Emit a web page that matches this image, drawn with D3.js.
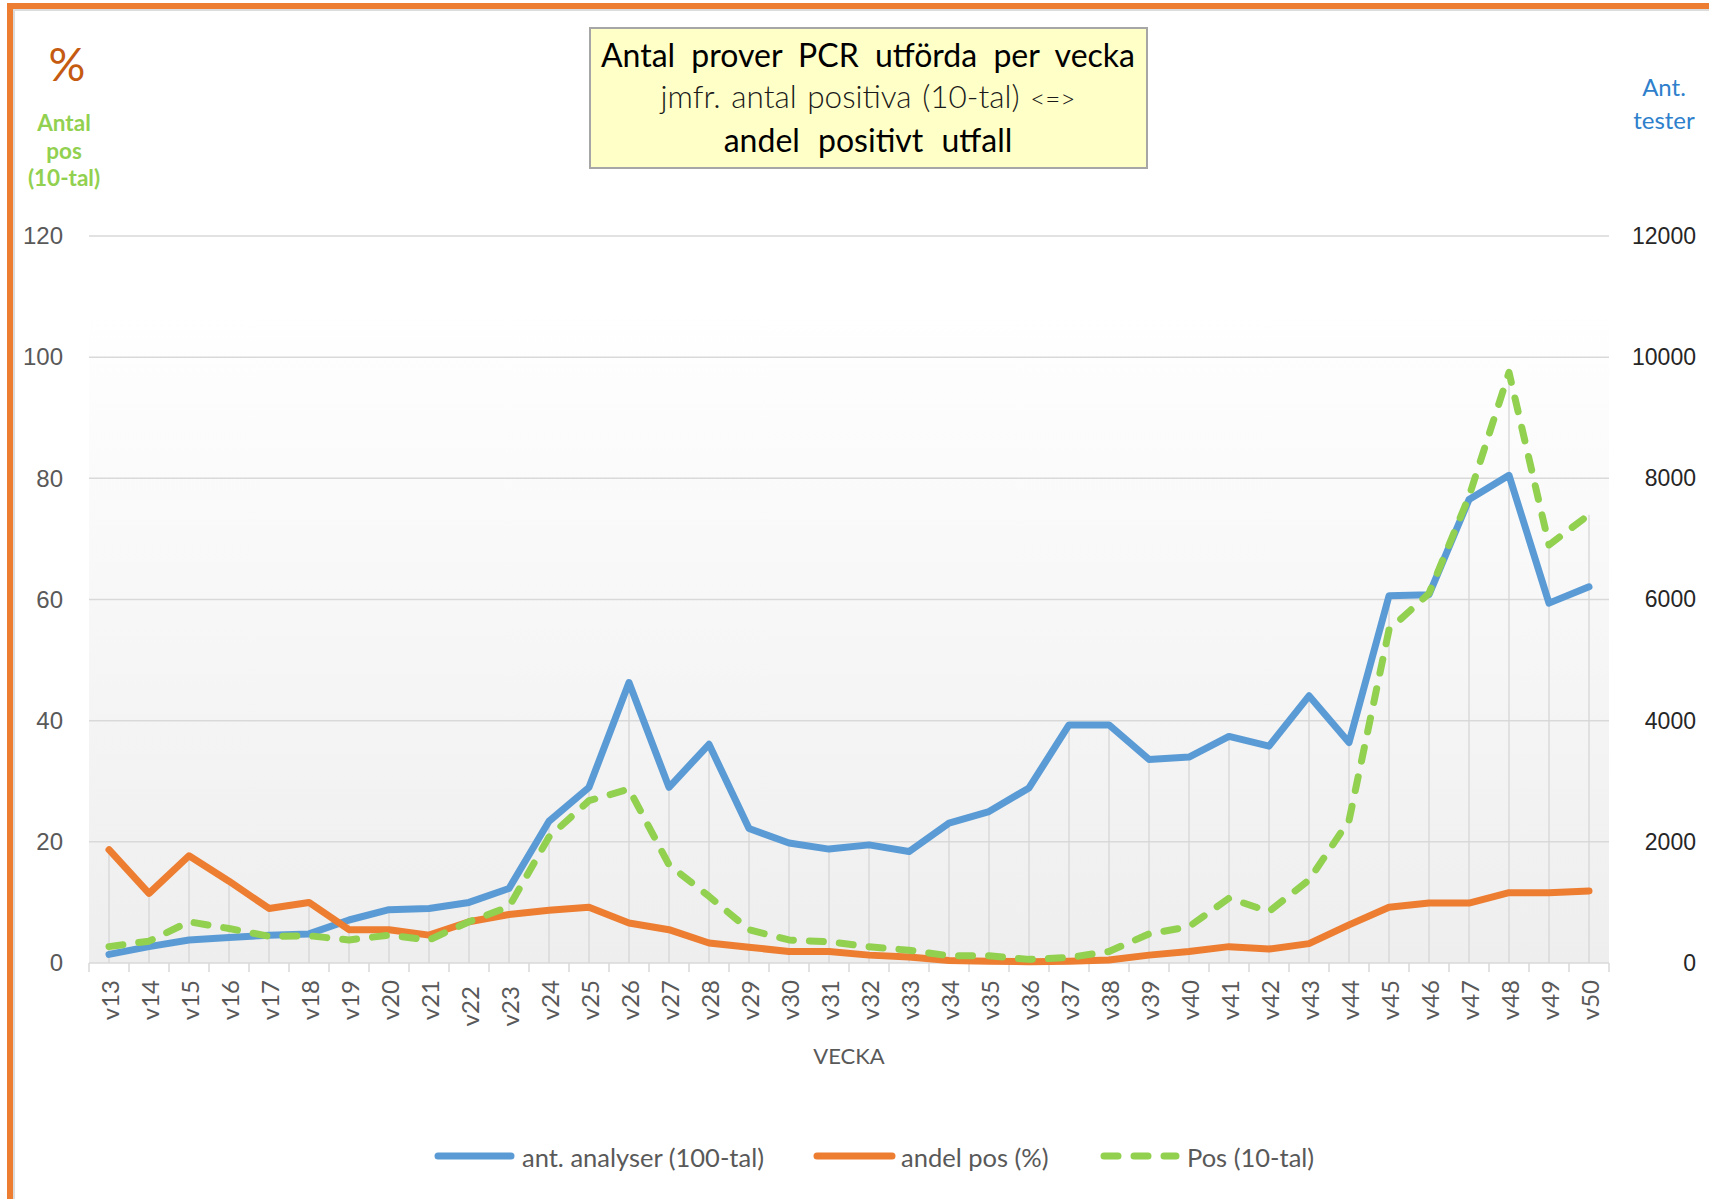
<!DOCTYPE html>
<html>
<head>
<meta charset="utf-8">
<script src="https://cdn.jsdelivr.net/npm/d3@7"></script>
<style>
  body { margin: 0; background: #fff; }
  svg { display: block; font-family: Lato, "Open Sans", sans-serif; }
  .wk { white-space: pre; }
</style>
</head>
<body>
<svg id="svg" width="1709" height="1199"></svg>
<script>
// weeks (a trailing space on v22/v23 is in the source labels)
var weeks = ["v13","v14","v15","v16","v17","v18","v19","v20","v21","v22 ","v23 ","v24","v25",
  "v26","v27","v28","v29","v30","v31","v32","v33","v34","v35","v36","v37","v38","v39","v40",
  "v41","v42","v43","v44","v45","v46","v47","v48","v49","v50"];

// ant. analyser - number of tests (right axis)
var analyser = [143, 270, 380, 420, 460, 480, 710, 880, 900, 1000, 1230, 2340, 2900,
  4630, 2900, 3610, 2220, 1980, 1880, 1950, 1840, 2310, 2500, 2890, 3930, 3930, 3360, 3400,
  3740, 3580, 4410, 3640, 6060, 6080, 7650, 8050, 5940, 6210];

// andel pos (%)
var andelPos = [18.7, 11.5, 17.7, 13.5, 9.0, 10.0, 5.5, 5.5, 4.6, 6.8, 8.0, 8.7, 9.2,
  6.6, 5.5, 3.3, 2.6, 1.9, 1.9, 1.3, 1.0, 0.4, 0.3, 0.2, 0.3, 0.5, 1.3, 1.9,
  2.7, 2.3, 3.2, 6.3, 9.2, 9.9, 9.9, 11.6, 11.6, 11.9];

// Pos (10-tal)
var pos10 = [2.7, 3.6, 6.8, 5.7, 4.4, 4.5, 3.8, 4.6, 3.8, 6.8, 9.3, 20.8, 26.8,
  28.7, 16.2, 11.0, 5.5, 3.8, 3.5, 2.7, 2.1, 1.2, 1.2, 0.6, 0.9, 1.9, 4.8, 6.0,
  10.7, 8.5, 13.7, 23.5, 55, 61, 77, 97.5, 69, 74];

var leftTicks = [0, 20, 40, 60, 80, 100, 120];
var rightTicks = [0, 2000, 4000, 6000, 8000, 10000, 12000];
var seriesNames = ["ant. analyser (100-tal)", "andel pos (%)", "Pos (10-tal)"];
var colors = ["#5b9bd5", "#ed7d31", "#92d050"];

var svg = d3.select("#svg");
var plot = {left: 89, right: 1609, top: 236, bottom: 963};

var xScale = d3.scaleBand().domain(weeks).range([plot.left, plot.right]).padding(0);
var bw = xScale.bandwidth();
var cx = function(i){ return xScale(weeks[i]) + bw / 2; };
var yLeft = d3.scaleLinear().domain([0, 120]).range([plot.bottom, plot.top]);
var yRight = d3.scaleLinear().domain([0, 12000]).range([plot.bottom, plot.top]);

// frame
svg.append("rect").attr("x", 7).attr("y", 3).attr("width", 1702).attr("height", 6).attr("fill", "#ed7d31");
svg.append("rect").attr("x", 7).attr("y", 3).attr("width", 6).attr("height", 1196).attr("fill", "#ed7d31");
svg.append("line").attr("x1", 13).attr("x2", 1709).attr("y1", 10).attr("y2", 10).attr("stroke", "#dcdcdc").attr("stroke-width", 2);
svg.append("line").attr("x1", 14).attr("x2", 14).attr("y1", 10).attr("y2", 1199).attr("stroke", "#dcdcdc").attr("stroke-width", 2);

// plot background gradient
var defs = svg.append("defs");
var grad = defs.append("linearGradient").attr("id", "bg").attr("x1", 0).attr("y1", 0).attr("x2", 0).attr("y2", 1);
grad.append("stop").attr("offset", "0").attr("stop-color", "#ffffff");
grad.append("stop").attr("offset", "0.1").attr("stop-color", "#ffffff");
grad.append("stop").attr("offset", "1").attr("stop-color", "#eeeeee");
svg.append("rect").attr("x", plot.left).attr("y", plot.top)
  .attr("width", plot.right - plot.left).attr("height", plot.bottom - plot.top)
  .attr("fill", "url(#bg)");

// gridlines
svg.append("g").selectAll("line").data(leftTicks.slice(1)).enter().append("line")
  .attr("x1", plot.left).attr("x2", plot.right)
  .attr("y1", function(d){ return yLeft(d); }).attr("y2", function(d){ return yLeft(d); })
  .attr("stroke", "#d9d9d9").attr("stroke-width", 1.5);

// drop lines
svg.append("g").selectAll("line").data(weeks).enter().append("line")
  .attr("x1", function(d, i){ return cx(i); }).attr("x2", function(d, i){ return cx(i); })
  .attr("y1", plot.bottom)
  .attr("y2", function(d, i){ return yLeft(Math.max(andelPos[i], pos10[i], analyser[i] / 100)); })
  .attr("stroke", "#d6d6d6").attr("stroke-width", 1.3);

// left axis
var la = svg.append("g").attr("transform", "translate(" + (plot.left - 26) + ",0)")
  .call(d3.axisLeft(yLeft).tickValues(leftTicks).tickSize(0).tickPadding(0));
la.select(".domain").remove();
la.selectAll("text").attr("font-size", 24).attr("fill", "#595959").attr("font-family", null);

// right axis
var ra = svg.append("g").attr("transform", "translate(1696,0)")
  .call(d3.axisRight(yRight).tickValues(rightTicks).tickSize(0).tickPadding(0).tickFormat(d3.format("d")));
ra.select(".domain").remove();
ra.selectAll("text").attr("text-anchor", "end").attr("font-size", 23).attr("fill", "#262626").attr("font-family", null);

// x axis
svg.append("line").attr("x1", plot.left).attr("x2", plot.right).attr("y1", plot.bottom).attr("y2", plot.bottom)
  .attr("stroke", "#d9d9d9").attr("stroke-width", 1.5);
var bounds = weeks.map(function(d){ return xScale(d); }).concat([plot.right]);
svg.append("g").selectAll("line").data(bounds).enter().append("line")
  .attr("x1", function(d){ return d; }).attr("x2", function(d){ return d; })
  .attr("y1", plot.bottom).attr("y2", plot.bottom + 9)
  .attr("stroke", "#d9d9d9").attr("stroke-width", 1.5);
svg.append("g").selectAll("text").data(weeks).enter().append("text")
  .attr("class", "wk")
  .attr("transform", function(d, i){ return "translate(" + cx(i) + ",980) rotate(-90)"; })
  .attr("text-anchor", "end").attr("dominant-baseline", "central")
  .attr("font-size", 24).attr("fill", "#595959")
  .text(function(d){ return d; });

svg.append("text").attr("x", 849).attr("y", 1055).attr("text-anchor", "middle")
  .attr("dominant-baseline", "central").attr("font-size", 22).attr("fill", "#595959").text("VECKA");

// series
var line = d3.line().x(function(d){ return cx(d[0]); }).y(function(d){ return d[1]; });
var blueLine = analyser.map(function(v, i){ return [i, yRight(v)]; });
var orangeLine = andelPos.map(function(v, i){ return [i, yLeft(v)]; });
var greenLine = pos10.map(function(v, i){ return [i, yLeft(v)]; });

svg.append("path").attr("d", line(blueLine)).attr("fill", "none").attr("stroke", colors[0])
  .attr("stroke-width", 7).attr("stroke-linejoin", "round").attr("stroke-linecap", "round");
svg.append("path").attr("d", line(orangeLine)).attr("fill", "none").attr("stroke", colors[1])
  .attr("stroke-width", 7).attr("stroke-linejoin", "round").attr("stroke-linecap", "round");
svg.append("path").attr("d", line(greenLine)).attr("fill", "none").attr("stroke", colors[2])
  .attr("stroke-width", 7).attr("stroke-linejoin", "round").attr("stroke-linecap", "round")
  .attr("stroke-dasharray", "14,16");

// title box
svg.append("rect").attr("x", 590).attr("y", 28).attr("width", 557).attr("height", 140)
  .attr("fill", "#ffffc8").attr("stroke", "#a6a6a6").attr("stroke-width", 2);
svg.append("text").attr("x", 868).attr("y", 67).attr("text-anchor", "middle")
  .attr("font-size", 32).attr("word-spacing", 8).attr("fill", "#000")
  .text("Antal prover PCR utförda per vecka");
var t2 = svg.append("text").attr("x", 868).attr("y", 108).attr("text-anchor", "middle")
  .attr("font-size", 31.5).attr("font-weight", 300).attr("word-spacing", 2).attr("fill", "#1a1a1a");
t2.append("tspan").text("jmfr. antal positiva (10-tal) ");
t2.append("tspan").attr("font-size", 26).text("<=>");
svg.append("text").attr("x", 868).attr("y", 152).attr("text-anchor", "middle")
  .attr("font-size", 32).attr("word-spacing", 10).attr("fill", "#000")
  .text("andel positivt utfall");

// axis captions
svg.append("text").attr("x", 67).attr("y", 81).attr("text-anchor", "middle")
  .attr("font-size", 46).attr("fill", "#c55a11").text("%");
svg.append("g").selectAll("text").data(["Antal", "pos", "(10-tal)"]).enter().append("text")
  .attr("x", 64).attr("y", function(d, i){ return 131 + i * 27.5; }).attr("text-anchor", "middle")
  .attr("font-size", 22.5).attr("font-weight", "bold").attr("fill", "#92d050").text(function(d){ return d; });
svg.append("g").selectAll("text").data(["Ant.", "tester"]).enter().append("text")
  .attr("x", 1664).attr("y", function(d, i){ return 96 + i * 33; }).attr("text-anchor", "middle")
  .attr("font-size", 24).attr("fill", "#2e80cc").text(function(d){ return d; });

// legend
var legendX = [[438, 511, 522], [817, 892, 901], [1104, 1176, 1187]];
var lg = svg.append("g").selectAll("g").data(seriesNames).enter().append("g");
lg.append("line")
  .attr("x1", function(d, i){ return legendX[i][0]; }).attr("x2", function(d, i){ return legendX[i][1]; })
  .attr("y1", 1156).attr("y2", 1156)
  .attr("stroke", function(d, i){ return colors[i]; }).attr("stroke-width", 7).attr("stroke-linecap", "round")
  .attr("stroke-dasharray", function(d, i){ return i === 2 ? "14,16" : null; });
lg.append("text")
  .attr("x", function(d, i){ return legendX[i][2]; }).attr("y", 1157)
  .attr("dominant-baseline", "central").attr("font-size", 25.5).attr("fill", "#595959")
  .text(function(d){ return d; });
</script>
</body>
</html>
